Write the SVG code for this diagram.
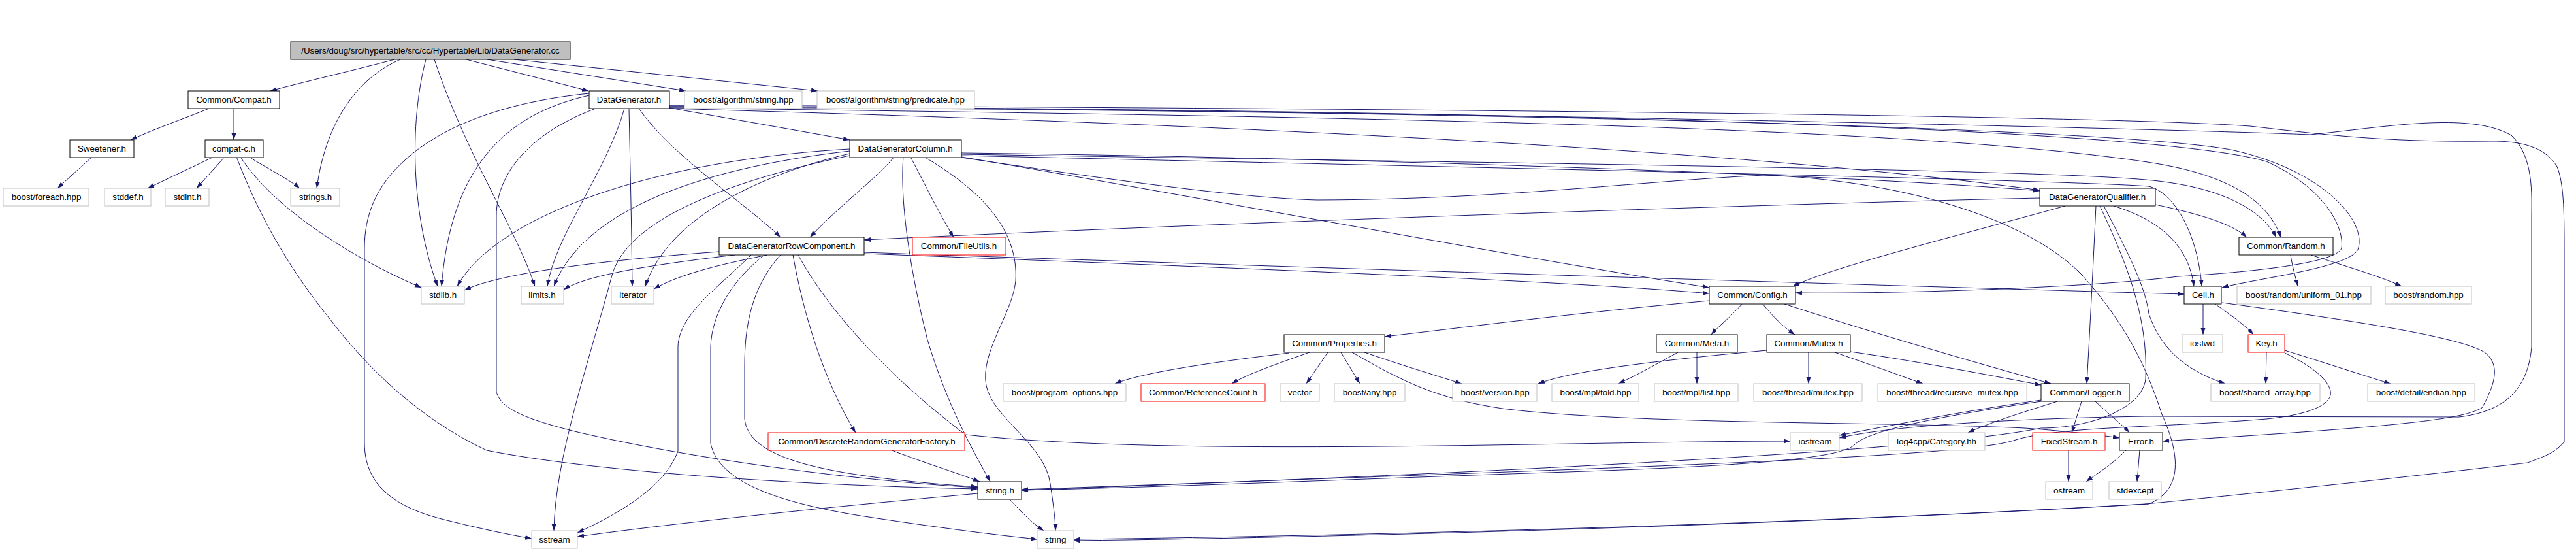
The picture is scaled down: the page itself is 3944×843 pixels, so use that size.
<svg xmlns="http://www.w3.org/2000/svg" width="3944" height="843" viewBox="0 0 3944 843">
<style>
.b{fill:#fff;stroke:#000;stroke-width:1}
.g{fill:#fff;stroke:#bfbfbf;stroke-width:1}
.r{fill:#fff;stroke:#ff0000;stroke-width:1}
.m{fill:#bfbfbf;stroke:#000;stroke-width:1}
text{font-family:"Liberation Sans",Arial,sans-serif;font-size:13.33px;fill:#000;text-anchor:middle}
.e path{fill:none;stroke:#191970;stroke-width:1;marker-end:url(#a)}
</style>
<defs>
<marker id="a" markerWidth="11" markerHeight="8" refX="10" refY="4" orient="auto" markerUnits="userSpaceOnUse"><path d="M0,0.5 L10,4 L0,7.5 z" fill="#191970"/></marker>
</defs>
<rect width="3944" height="843" fill="#fff"/>
<g class="e" id="edges">
<path d="M604,91 C540,108 470,124 414,139"/>
<path d="M613,91 C545,120 498,190 485,288"/>
<path d="M652,91 C626,190 630,330 670,438"/>
<path d="M665,91 C715,240 790,350 819,438"/>
<path d="M714,91 L901,139"/>
<path d="M746,91 L1050,139"/>
<path d="M787,91 L1252,139"/>
<path d="M320,166 C280,182 235,198 200,214"/>
<path d="M358,166 L358,214"/>
<path d="M141,240 L88,288"/>
<path d="M327,240 L226,288"/>
<path d="M344,240 L301,288"/>
<path d="M381,240 C410,258 440,273 459,288"/>
<path d="M368,240 C420,320 540,395 645,440"/>
<path d="M362,240 C400,340 450,420 505,488 C560,560 640,640 745,689 C900,720 1200,742 1497,748"/>
<path d="M1025,165 L1301,214"/>
<path d="M978,166 C1030,240 1140,310 1195,363"/>
<path d="M956,166 C930,260 850,360 838,438"/>
<path d="M963,166 C965,260 967,350 968,438"/>
<path d="M902,146 C770,175 690,260 676,438"/>
<path d="M902,143 C780,155 680,190 620,245 C575,285 558,330 558,380 L558,677 C558,740 600,775 680,795 C740,810 780,818 814,824"/>
<path d="M912,166 C820,200 760,260 760,330 L760,600 C768,625 800,640 884,661 C1050,700 1300,735 1497,746"/>
<path d="M1025,166 C1700,185 2600,220 3123,291"/>
<path d="M1025,165 C2000,178 2900,190 3288,248 C3400,265 3470,300 3492,363"/>
<path d="M1025,164 C2200,168 3250,195 3420,230 C3560,262 3625,340 3610,382 C3595,410 3460,425 3402,440"/>
<path d="M1025,163 C2200,166 3280,192 3470,247 C3555,285 3590,345 3585,380 C3575,405 3420,418 3335,423 C3200,440 2900,450 2749,448"/>
<path d="M1025,162 C2300,170 3400,200 3537,206 C3650,195 3780,170 3845,207 C3880,240 3876,300 3876,330 L3876,531 C3870,600 3830,630 3765,638 L3285,637 C3100,640 2900,650 2816,670"/>
<path d="M1025,161 C2000,165 3200,175 3445,193 C3550,205 3650,218 3811,216 C3870,215 3900,230 3915,255 C3925,280 3926,320 3926,380 L3926,676 C3910,695 3890,700 3870,708 C3600,740 3300,770 3285,771 C2800,800 2100,820 1644,825"/>
<path d="M1369,240 C1340,275 1290,310 1240,363"/>
<path d="M1394,240 C1420,290 1440,330 1460,363"/>
<path d="M1383,240 C1378,300 1390,400 1420,520 C1450,620 1490,690 1516,737"/>
<path d="M1415,240 C1500,290 1560,350 1555,430 C1550,480 1500,540 1510,590 C1520,640 1600,680 1608,740 C1614,780 1616,800 1616,812"/>
<path d="M1301,228 C1000,245 760,330 700,438"/>
<path d="M1301,231 C1050,260 890,330 848,438"/>
<path d="M1301,235 C1150,270 1020,340 988,438"/>
<path d="M1301,238 C1100,280 960,340 937,421 C900,560 850,700 848,812"/>
<path d="M1472,234 C2000,240 2800,265 3123,292"/>
<path d="M1472,236 C2200,248 3100,258 3285,275 C3400,285 3462,320 3485,363"/>
<path d="M1472,238 C2200,255 3150,275 3290,285 C3330,295 3365,360 3371,438"/>
<path d="M1472,240 C1800,295 2300,390 2617,440"/>
<path d="M1472,241 C1700,275 1900,303 2017,306 C2300,305 2500,278 2700,268 C2900,275 3100,330 3188,421 C3240,480 3280,540 3310,634 C3340,700 3340,750 3290,771 C2800,800 2100,822 1644,827"/>
<path d="M1101,385 C900,400 760,420 711,444"/>
<path d="M1125,390 C1000,405 900,420 863,443"/>
<path d="M1175,390 C1100,405 1040,420 1001,442"/>
<path d="M1150,390 C1100,440 1040,480 1038,530 L1038,690 C1020,740 960,780 884,815"/>
<path d="M1195,390 C1150,440 1140,500 1140,560 L1140,640 C1145,700 1250,728 1497,745"/>
<path d="M1170,390 C1120,430 1090,480 1088,530 L1088,678 C1100,740 1200,770 1317,789 C1420,805 1520,818 1588,825"/>
<path d="M1214,390 C1230,480 1260,580 1310,662"/>
<path d="M1222,390 C1260,460 1340,560 1478,665 C1800,700 2400,675 2741,675"/>
<path d="M1323,386 C2000,410 3000,440 3344,450"/>
<path d="M1323,388 C1900,410 2400,430 2617,449"/>
<path d="M3123,303 C2800,310 2000,335 1323,367"/>
<path d="M3162,315 C3000,360 2800,410 2745,438"/>
<path d="M3209,315 C3205,400 3200,500 3195,587"/>
<path d="M3300,313 C3380,330 3420,345 3440,363"/>
<path d="M3236,315 C3300,335 3350,370 3359,438"/>
<path d="M3215,315 C3250,390 3290,480 3285,580 C3280,625 3200,655 3125,655 C3000,680 2600,712 1564,750"/>
<path d="M3221,315 C3260,390 3285,440 3290,480 C3310,540 3355,570 3407,587"/>
<path d="M3498,540 C3540,560 3572,585 3568,605 C3562,625 3520,636 3470,641 C3300,655 3150,652 3083,674 C3000,700 2500,715 1564,749"/>
<path d="M1363,688 C1420,710 1470,725 1500,737"/>
<path d="M1545,763 C1565,785 1580,800 1598,812"/>
<path d="M1497,755 C1200,782 1000,805 884,821"/>
<path d="M1974,540 C1850,555 1750,570 1707,587"/>
<path d="M2005,539 C1960,555 1910,572 1886,587"/>
<path d="M2033,539 L2000,587"/>
<path d="M2053,539 L2082,587"/>
<path d="M2089,539 C2150,560 2200,575 2238,587"/>
<path d="M2070,539 C2150,585 2200,610 2300,625 C2500,650 2900,645 3100,655 C3170,660 3210,665 3245,670"/>
<path d="M2617,460 C2400,480 2250,500 2120,515"/>
<path d="M2668,464 C2650,485 2630,500 2620,512"/>
<path d="M2698,464 C2715,485 2730,500 2748,512"/>
<path d="M2729,464 C2900,520 3080,570 3140,587"/>
<path d="M2569,539 C2540,555 2510,572 2478,587"/>
<path d="M2598,539 L2598,587"/>
<path d="M2705,536 C2500,555 2400,570 2355,587"/>
<path d="M2769,539 L2769,587"/>
<path d="M2809,539 C2870,560 2910,575 2944,587"/>
<path d="M2833,538 C2950,555 3050,575 3125,589"/>
<path d="M3125,612 C3000,630 2900,650 2816,666"/>
<path d="M3125,614 C2950,640 2860,660 2840,680 C2820,700 2700,712 2400,722 C2100,732 1800,745 1564,750"/>
<path d="M3150,614 C3100,630 3050,645 3013,662"/>
<path d="M3187,614 L3172,662"/>
<path d="M3208,614 C3230,635 3250,650 3260,662"/>
<path d="M3167,688 L3167,737"/>
<path d="M3256,688 C3235,710 3210,725 3194,737"/>
<path d="M3276,688 L3272,737"/>
<path d="M3373,464 L3373,512"/>
<path d="M3390,464 C3420,485 3440,500 3450,512"/>
<path d="M3402,463 C3600,490 3765,515 3804,539 C3825,555 3825,580 3800,624 C3770,640 3706,651 3311,675"/>
<path d="M3470,539 L3469,587"/>
<path d="M3498,536 C3560,555 3620,575 3660,587"/>
<path d="M3507,390 C3510,410 3515,425 3518,438"/>
<path d="M3538,390 C3600,410 3650,425 3677,438"/>
</g>
<g id="n0"><rect class="m" x="445" y="64" width="428" height="27"/><text x="659" y="82">/Users/doug/src/hypertable/src/cc/Hypertable/Lib/DataGenerator.cc</text></g>
<g id="n1"><rect class="b" x="288" y="139" width="140" height="27"/><text x="358" y="157">Common/Compat.h</text></g>
<g id="n2"><rect class="b" x="107" y="214" width="98" height="27"/><text x="156" y="232">Sweetener.h</text></g>
<g id="n3"><rect class="b" x="314" y="214" width="89" height="27"/><text x="358" y="232">compat-c.h</text></g>
<g id="n4"><rect class="g" x="5" y="288" width="131" height="27"/><text x="71" y="306">boost/foreach.hpp</text></g>
<g id="n5"><rect class="g" x="160" y="288" width="71" height="27"/><text x="196" y="306">stddef.h</text></g>
<g id="n6"><rect class="g" x="253" y="288" width="67" height="27"/><text x="287" y="306">stdint.h</text></g>
<g id="n7"><rect class="g" x="445" y="288" width="75" height="27"/><text x="483" y="306">strings.h</text></g>
<g id="n8"><rect class="b" x="902" y="139" width="123" height="27"/><text x="963" y="157">DataGenerator.h</text></g>
<g id="n9"><rect class="g" x="1048" y="139" width="180" height="27"/><text x="1138" y="157">boost/algorithm/string.hpp</text></g>
<g id="n10"><rect class="g" x="1251" y="139" width="241" height="27"/><text x="1371" y="157">boost/algorithm/string/predicate.hpp</text></g>
<g id="n11"><rect class="b" x="1301" y="214" width="171" height="27"/><text x="1386" y="232">DataGeneratorColumn.h</text></g>
<g id="n12"><rect class="b" x="1101" y="363" width="222" height="27"/><text x="1212" y="381">DataGeneratorRowComponent.h</text></g>
<g id="n13"><rect class="r" x="1397" y="363" width="143" height="27"/><text x="1468" y="381">Common/FileUtils.h</text></g>
<g id="n14"><rect class="b" x="3123" y="288" width="177" height="27"/><text x="3211" y="306">DataGeneratorQualifier.h</text></g>
<g id="n15"><rect class="b" x="3428" y="363" width="144" height="27"/><text x="3500" y="381">Common/Random.h</text></g>
<g id="n16"><rect class="g" x="645" y="438" width="66" height="27"/><text x="678" y="456">stdlib.h</text></g>
<g id="n17"><rect class="g" x="798" y="438" width="65" height="27"/><text x="830" y="456">limits.h</text></g>
<g id="n18"><rect class="g" x="936" y="438" width="65" height="27"/><text x="969" y="456">iterator</text></g>
<g id="n19"><rect class="g" x="814" y="812" width="70" height="27"/><text x="849" y="830">sstream</text></g>
<g id="n20"><rect class="r" x="1176" y="662" width="301" height="27"/><text x="1327" y="680">Common/DiscreteRandomGeneratorFactory.h</text></g>
<g id="n21"><rect class="b" x="1497" y="737" width="67" height="27"/><text x="1531" y="755">string.h</text></g>
<g id="n22"><rect class="g" x="1588" y="812" width="56" height="27"/><text x="1616" y="830">string</text></g>
<g id="n23"><rect class="g" x="1536" y="587" width="188" height="27"/><text x="1630" y="605">boost/program_options.hpp</text></g>
<g id="n24"><rect class="r" x="1747" y="587" width="190" height="27"/><text x="1842" y="605">Common/ReferenceCount.h</text></g>
<g id="n25"><rect class="g" x="1960" y="587" width="60" height="27"/><text x="1990" y="605">vector</text></g>
<g id="n26"><rect class="b" x="1966" y="512" width="154" height="27"/><text x="2043" y="530">Common/Properties.h</text></g>
<g id="n27"><rect class="g" x="2043" y="587" width="108" height="27"/><text x="2097" y="605">boost/any.hpp</text></g>
<g id="n28"><rect class="g" x="2224" y="587" width="129" height="27"/><text x="2289" y="605">boost/version.hpp</text></g>
<g id="n29"><rect class="g" x="2376" y="587" width="133" height="27"/><text x="2443" y="605">boost/mpl/fold.hpp</text></g>
<g id="n30"><rect class="g" x="2533" y="587" width="128" height="27"/><text x="2597" y="605">boost/mpl/list.hpp</text></g>
<g id="n31"><rect class="b" x="2536" y="512" width="124" height="27"/><text x="2598" y="530">Common/Meta.h</text></g>
<g id="n32"><rect class="b" x="2617" y="438" width="132" height="27"/><text x="2683" y="456">Common/Config.h</text></g>
<g id="n33"><rect class="b" x="2705" y="512" width="128" height="27"/><text x="2769" y="530">Common/Mutex.h</text></g>
<g id="n34"><rect class="g" x="2685" y="587" width="166" height="27"/><text x="2768" y="605">boost/thread/mutex.hpp</text></g>
<g id="n35"><rect class="g" x="2875" y="587" width="228" height="27"/><text x="2989" y="605">boost/thread/recursive_mutex.hpp</text></g>
<g id="n36"><rect class="b" x="3125" y="587" width="135" height="27"/><text x="3193" y="605">Common/Logger.h</text></g>
<g id="n37"><rect class="g" x="2741" y="662" width="75" height="27"/><text x="2779" y="680">iostream</text></g>
<g id="n38"><rect class="g" x="2891" y="662" width="148" height="27"/><text x="2965" y="680">log4cpp/Category.hh</text></g>
<g id="n39"><rect class="r" x="3112" y="662" width="111" height="27"/><text x="3168" y="680">FixedStream.h</text></g>
<g id="n40"><rect class="b" x="3245" y="662" width="66" height="27"/><text x="3278" y="680">Error.h</text></g>
<g id="n41"><rect class="g" x="3132" y="737" width="72" height="27"/><text x="3168" y="755">ostream</text></g>
<g id="n42"><rect class="g" x="3229" y="737" width="80" height="27"/><text x="3269" y="755">stdexcept</text></g>
<g id="n43"><rect class="b" x="3344" y="438" width="57" height="27"/><text x="3373" y="456">Cell.h</text></g>
<g id="n44"><rect class="g" x="3425" y="438" width="205" height="27"/><text x="3527" y="456">boost/random/uniform_01.hpp</text></g>
<g id="n45"><rect class="g" x="3652" y="438" width="132" height="27"/><text x="3718" y="456">boost/random.hpp</text></g>
<g id="n46"><rect class="g" x="3341" y="512" width="62" height="27"/><text x="3372" y="530">iosfwd</text></g>
<g id="n47"><rect class="r" x="3442" y="512" width="56" height="27"/><text x="3470" y="530">Key.h</text></g>
<g id="n48"><rect class="g" x="3385" y="587" width="167" height="27"/><text x="3468" y="605">boost/shared_array.hpp</text></g>
<g id="n49"><rect class="g" x="3625" y="587" width="164" height="27"/><text x="3707" y="605">boost/detail/endian.hpp</text></g>
</svg>
